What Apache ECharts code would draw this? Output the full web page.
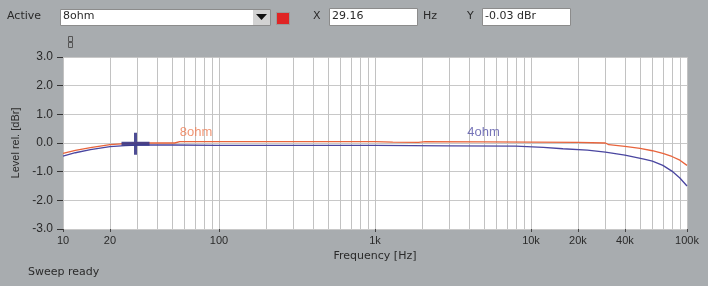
<!DOCTYPE html>
<html><head><meta charset="utf-8">
<script src="https://cdn.jsdelivr.net/npm/echarts@6/dist/echarts.min.js"></script>
<style>html,body{margin:0;padding:0;background:#a8acaf;overflow:hidden}#c{width:708px;height:286px}</style>
</head><body><div id="c"></div>
<script>
// ---- data ----
const freq8 = [10, 12, 15, 20, 25, 30, 40, 52, 56, 100, 300, 1000, 1300, 1900, 2100, 5000, 10000, 20000, 30000, 31500, 40000, 50000, 60000, 70000, 80000, 90000, 100000];
const level8 = [-0.36, -0.26, -0.16, -0.06, -0.02, 0.0, 0.0, 0.0, 0.05, 0.05, 0.05, 0.05, 0.03, 0.02, 0.05, 0.04, 0.03, 0.02, 0.0, -0.06, -0.12, -0.19, -0.27, -0.36, -0.47, -0.6, -0.78];
const freq4 = [10, 12, 15, 20, 25, 30, 50, 100, 1000, 3000, 8000, 12000, 16000, 23000, 30000, 40000, 53000, 60000, 70000, 80000, 90000, 100000];
const level4 = [-0.46, -0.34, -0.23, -0.13, -0.09, -0.07, -0.07, -0.08, -0.08, -0.1, -0.11, -0.15, -0.2, -0.25, -0.32, -0.42, -0.56, -0.63, -0.78, -0.98, -1.22, -1.5];
const cursorPoint = [29.16, -0.03];
const seriesNames = ['8ohm', '4ohm'];
const labelPos8 = [56, 0.36];
const labelPos4 = [3900, 0.36];
const xTickLabels = [10, 20, 100, 1000, 10000, 20000, 40000, 100000];
const xGridFreqs = [10,20,30,40,50,60,70,80,90,100,200,300,400,500,600,700,800,900,1000,2000,3000,4000,5000,6000,7000,8000,9000,10000,20000,30000,40000,50000,60000,70000,80000,90000,100000];
const yMin = -3, yMax = 3, yStep = 1;

const FONT = 'DejaVu Sans, sans-serif';
const FONT2 = 'Liberation Sans, Arial, sans-serif';
const TXT = '#2a2a2a';
const pairs = (xs, ys) => xs.map((x, i) => [x, ys[i]]);

const chart = echarts.init(document.getElementById('c'), null, {renderer: 'canvas'});
const fmtF = v => v >= 1000 ? (v / 1000) + 'k' : String(v);

chart.setOption({
  backgroundColor: '#a8acaf',
  animation: false,
  textStyle: {fontFamily: FONT},
  grid: {left: 63, right: 21, top: 57, bottom: 57, show: true, backgroundColor: '#ffffff', borderWidth: 0},
  xAxis: [{
    type: 'log', logBase: 10, min: 10, max: 100000,
    axisLine: {show: false},
    axisTick: {show: false, customValues: xGridFreqs},
    splitLine: {show: true, lineStyle: {color: '#c2c2c2', width: 1}},
    axisLabel: {customValues: xTickLabels, formatter: fmtF, color: TXT, fontSize: 11, margin: 6, fontFamily: FONT2},
    name: 'Frequency [Hz]', nameLocation: 'middle', nameGap: 22,
    nameTextStyle: {color: TXT, fontSize: 11, fontFamily: FONT}
  }, {
    type: 'log', logBase: 10, min: 10, max: 100000, position: 'bottom',
    axisLine: {show: false},
    axisTick: {show: true, customValues: xTickLabels, length: 3, lineStyle: {color: '#444'}},
    splitLine: {show: false},
    axisLabel: {show: false}
  }],
  yAxis: {
    type: 'value', min: yMin, max: yMax, interval: yStep,
    axisLine: {show: false},
    axisTick: {show: true, length: 6, lineStyle: {color: '#333'}},
    splitLine: {show: true, lineStyle: {color: '#c8c8c8', width: 1}},
    axisLabel: {formatter: v => v.toFixed(1), color: TXT, fontSize: 12, margin: 10, fontFamily: FONT2},
    name: 'Level rel. [dBr]', nameLocation: 'middle', nameGap: 37, nameRotate: 90,
    nameTextStyle: {color: TXT, fontSize: 11, fontFamily: FONT2}
  },
  series: [
    {name: seriesNames[0], type: 'line', xAxisIndex: 0, data: pairs(freq8, level8), showSymbol: false, symbol: 'none',
     lineStyle: {color: '#e8643c', width: 1.3}, z: 3},
    {name: seriesNames[1], type: 'line', xAxisIndex: 0, data: pairs(freq4, level4), showSymbol: false, symbol: 'none',
     lineStyle: {color: '#4a46a0', width: 1.3}, z: 3},
    {type: 'scatter', xAxisIndex: 0, data: [cursorPoint], silent: true, z: 5,
     symbol: 'path://M0,9 H12.5 V0 H15.5 V9 H28 V13 H15.5 V22 H12.5 V13 H0 Z',
     symbolSize: [28, 22], itemStyle: {color: '#3a3888', opacity: 0.9}},
    {type: 'scatter', xAxisIndex: 0, data: [labelPos8], symbolSize: 0, silent: true,
     label: {show: true, position: 'right', distance: 0, formatter: seriesNames[0], color: '#ee7a50', fontSize: 13, fontFamily: FONT2}},
    {type: 'scatter', xAxisIndex: 0, data: [labelPos4], symbolSize: 0, silent: true,
     label: {show: true, position: 'right', distance: 0, formatter: seriesNames[1], color: '#5552a8', fontSize: 13, fontFamily: FONT2}}
  ],
  graphic: [
    {type: 'text', left: 7, top: 11, style: {text: 'Active', fill: TXT, font: '11px ' + FONT}},
    {type: 'rect', shape: {x: 60.5, y: 9.5, width: 210, height: 16}, style: {fill: '#ffffff', stroke: '#8c8c8c', lineWidth: 1}},
    {type: 'text', left: 63, top: 11, style: {text: '8ohm', fill: TXT, font: '11px ' + FONT}},
    {type: 'rect', shape: {x: 253, y: 10, width: 17, height: 15}, style: {fill: '#d2d2d2'}},
    {type: 'polygon', shape: {points: [[256, 14], [267, 14], [261.5, 20]]}, style: {fill: '#111'}},
    {type: 'rect', shape: {x: 276.5, y: 12.5, width: 13, height: 12}, style: {fill: '#e02424', stroke: '#9a9a9a', lineWidth: 1}},
    {type: 'text', left: 313, top: 11, style: {text: 'X', fill: TXT, font: '11px ' + FONT}},
    {type: 'rect', shape: {x: 329.5, y: 8.5, width: 88, height: 17}, style: {fill: '#ffffff', stroke: '#8c8c8c', lineWidth: 1}},
    {type: 'text', left: 332, top: 11, style: {text: '29.16', fill: TXT, font: '11px ' + FONT}},
    {type: 'text', left: 423, top: 11, style: {text: 'Hz', fill: TXT, font: '11px ' + FONT}},
    {type: 'text', left: 467, top: 11, style: {text: 'Y', fill: TXT, font: '11px ' + FONT}},
    {type: 'rect', shape: {x: 482.5, y: 8.5, width: 88, height: 17}, style: {fill: '#ffffff', stroke: '#8c8c8c', lineWidth: 1}},
    {type: 'text', left: 485, top: 11, style: {text: '-0.03 dBr', fill: TXT, font: '11px ' + FONT}},
    {type: 'rect', shape: {x: 68.5, y: 36.5, width: 4, height: 5}, style: {fill: 'none', stroke: '#555', lineWidth: 1}},
    {type: 'rect', shape: {x: 68.5, y: 42.5, width: 4, height: 5}, style: {fill: 'none', stroke: '#555', lineWidth: 1}},
    {type: 'text', left: 28, top: 267, style: {text: 'Sweep ready', fill: TXT, font: '11px ' + FONT}}
  ]
});
</script>
</body></html>
